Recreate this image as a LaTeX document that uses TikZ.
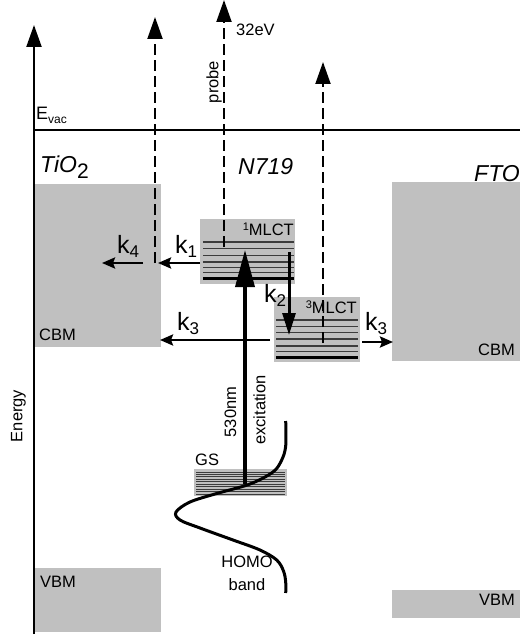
\documentclass[tikz,border=0pt]{standalone}
\usepackage{fontspec}
\setmainfont{Liberation Sans}
\usetikzlibrary{arrows.meta}
\definecolor{bandgray}{RGB}{192,192,192}
\definecolor{levgray}{RGB}{60,60,60}
\begin{document}
\begin{tikzpicture}[x=1pt,y=-1pt,
  band/.style={fill=bandgray, draw=none, inner sep=0pt, outer sep=0pt, anchor=north west},
  lev/.style={draw=levgray, line width=1.4pt},
  levthick/.style={draw=black, line width=3pt},
  gslev/.style={draw=levgray, line width=1pt},
  bigarrow/.style={line width=2.2pt, -{Triangle[length=22pt,width=15pt]}},
  probearrow/.style={line width=2pt, dash pattern=on 11pt off 5pt, -{Triangle[length=22pt,width=15pt]}},
  karrow/.style={line width=2.5pt, -{Stealth[length=13pt,width=11pt,inset=2pt]}},
  lbl/.style={font=\fontsize{16.5}{18}\selectfont, inner sep=0pt},
  klbl/.style={font=\fontsize{25}{27}\selectfont, inner sep=0pt, anchor=base west},
  mat/.style={font=\fontsize{23}{25}\selectfont\itshape, inner sep=0pt, anchor=base west},
]
\useasboundingbox (0,0) rectangle (522,636);

% bands
\node[band, minimum width=127pt, minimum height=163pt] (tiocb) at (34,184) {};
\node[band, minimum width=127pt, minimum height=64pt] (tiovb) at (34,568) {};
\node[band, minimum width=128pt, minimum height=179pt] (ftocb) at (392,182) {};
\node[band, minimum width=128pt, minimum height=28pt] (ftovb) at (392,590) {};
\node[band, minimum width=95pt, minimum height=65pt] (s1) at (200,219) {};
\node[band, minimum width=86pt, minimum height=65pt] (s3) at (274,297) {};
\node[band, minimum width=93pt, minimum height=27pt] (gs) at (194,469) {};

% levels
\foreach \yy in {242,248.5,255.5,262,267.5,272.5} \draw[lev] (203,\yy) -- (294,\yy);
\draw[levthick] (203,278.5) -- (294,278.5);
\foreach \yy in {320,326.5,332.5,339,346,351.5} \draw[lev] (276,\yy) -- (358,\yy);
\draw[levthick] (276,357.5) -- (358,357.5);
\foreach \i in {0,...,9} \draw[gslev] (196,472+2.45*\i) -- (285,472+2.45*\i);

% axis and vacuum level
\coordinate (axbot) at (34,634);
\coordinate (axtop) at (34,25);
\draw[bigarrow] (axbot) -- (axtop);
\coordinate (evl) at (34,130);
\coordinate (evr) at (520,130);
\draw[line width=2pt] (evl) -- (evr);

% dashed probe arrows
\coordinate (d1b) at (155,263);
\coordinate (d1t) at (155,17);
\coordinate (d2b) at (224,247);
\coordinate (d2t) at (224,0);
\coordinate (d3b) at (323,343);
\coordinate (d3t) at (323,62);
\draw[probearrow] (d1b) -- (d1t);
\draw[probearrow] (d2b) -- (d2t);
\draw[probearrow] (d3b) -- (d3t);

% k arrows
\coordinate (k1s) at (200,263);
\coordinate (k1e) at (158,263);
\draw[karrow] (k1s) -- (k1e);
\coordinate (k4s) at (143,263);
\coordinate (k4e) at (102,263);
\draw[karrow] (k4s) -- (k4e);
\coordinate (k3ls) at (270,340);
\coordinate (k3le) at (160,340);
\draw[karrow] (k3ls) -- (k3le);
\coordinate (k3rs) at (362,342);
\coordinate (k3re) at (393,342);
\draw[karrow] (k3rs) -- (k3re);
\coordinate (k2s) at (289,252);
\coordinate (k2e) at (289,335);
\draw[line width=3pt, -{Triangle[length=22pt,width=13pt]}] (k2s) -- (k2e);

% HOMO band curve
\draw[line width=3pt] plot[smooth, tension=0.55] coordinates {
 (285.7,421) (285.7,446) (281.7,460) (273,472) (250,484) (216.7,493.5)
 (190,502) (176,512) (180,520) (200,528) (233,540) (260,550)
 (276.7,560) (283.5,571) (285.7,582) (285.7,593)};

% excitation arrow
\coordinate (exs) at (245,484);
\coordinate (exe) at (245,250);
\draw[line width=3.5pt, -{Triangle[length=37pt,width=19pt]}] (exs) -- (exe);

% labels
\node[lbl, anchor=base west, font=\fontsize{18}{20}\selectfont] (evac) at (36,120) {E\raisebox{-3.5pt}{\fontsize{12}{12}\selectfont vac}};
\node[mat] (tio2) at (40,173) {TiO\raisebox{-6pt}{\fontsize{21}{21}\selectfont\upshape 2}};
\node[mat] (n719) at (238,175) {N719};
\node[mat, anchor=base east] (fto) at (520,182) {FTO};
\node[lbl, anchor=base west] (cbml) at (39,340) {CBM};
\node[lbl, anchor=base west] (vbml) at (40,587) {VBM};
\node[lbl, anchor=base east] (cbmr) at (515,355) {CBM};
\node[lbl, anchor=base east] (vbmr) at (515,605) {VBM};
\node[lbl, anchor=base east] (mlct1) at (294,235) {\raisebox{5pt}{\fontsize{11}{11}\selectfont 1}MLCT};
\node[lbl, anchor=base east] (mlct3) at (357,313) {\raisebox{5pt}{\fontsize{11}{11}\selectfont 3}MLCT};
\node[lbl, anchor=base west] (ev32) at (236,36) {32eV};
\node[lbl, rotate=90] (probe) at (214,82) {probe};
\node[lbl, rotate=90] (nm530) at (230.5,412) {530nm};
\node[lbl, rotate=90] (excit) at (259.5,410) {excitation};
\node[lbl, rotate=90] (energy) at (18.5,416) {Energy};
\node[lbl, anchor=base west] (gsl) at (195,465) {GS};
\node[lbl, anchor=base] (homo) at (247,567) {HOMO};
\node[lbl, anchor=base] (bandl) at (247,590) {band};

\node[klbl] (k1) at (175,253) {k\raisebox{-4pt}{\fontsize{17}{17}\selectfont 1}};
\node[klbl] (k4) at (117,253) {k\raisebox{-4pt}{\fontsize{17}{17}\selectfont 4}};
\node[klbl] (k3l) at (177,330) {k\raisebox{-4pt}{\fontsize{17}{17}\selectfont 3}};
\node[klbl] (k3r) at (365,330) {k\raisebox{-4pt}{\fontsize{17}{17}\selectfont 3}};
\node[klbl] (k2) at (264,302) {k\raisebox{-4pt}{\fontsize{17}{17}\selectfont 2}};
\end{tikzpicture}
\end{document}
